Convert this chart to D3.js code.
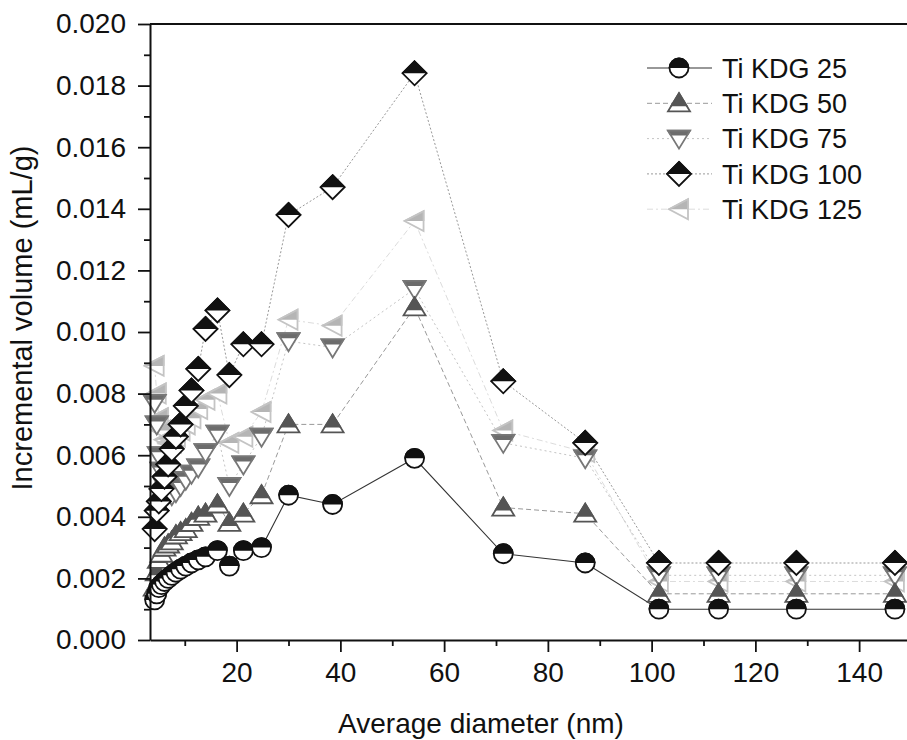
<!DOCTYPE html>
<html lang="en">
<head>
    <meta charset="UTF-8">
    <script src="https://cdnjs.cloudflare.com/ajax/libs/d3/7.8.5/d3.min.js"></script>
    <style>
        body { margin: 0; background: #fff; }
        text { font-family: "Liberation Sans", Arial, sans-serif; }
    </style>
    <title>Incremental volume</title>
</head>
<body>
    <div id="chart"></div>
    <script>
        // pore diameters (nm), shared by all samples
        var diamDense = [4.2, 4.6, 5.0, 5.5, 6.1, 6.8, 7.5, 8.3, 9.2, 10.2, 11.3, 12.6, 14.0, 16.3, 18.6, 21.3, 24.8];
        var diamTail = [30.0, 38.5, 54.3, 71.4, 87.2, 101.4, 112.9, 127.9, 146.9];

        var seriesNames = ['Ti KDG 25', 'Ti KDG 50', 'Ti KDG 75', 'Ti KDG 100', 'Ti KDG 125'];

        var kdg25 = [0.0013, 0.0015, 0.0017, 0.0018, 0.0019, 0.0020, 0.0021, 0.0022, 0.0023, 0.0024, 0.0025, 0.0026, 0.0027, 0.0029, 0.0024, 0.0029, 0.0030,
            0.0047, 0.0044, 0.0059, 0.0028, 0.0025, 0.0010, 0.0010, 0.0010, 0.0010];
        var kdg50 = [0.0017, 0.0022, 0.0026, 0.0028, 0.0030, 0.0031, 0.0032, 0.0034, 0.0035, 0.0036, 0.0038, 0.0040, 0.0041, 0.0044, 0.0038, 0.0041, 0.0047,
            0.0070, 0.0070, 0.0108, 0.0043, 0.0041, 0.0015, 0.0015, 0.0015, 0.0015];
        var kdg75 = [0.0077, 0.0070, 0.0060, 0.0055, 0.0050, 0.0048, 0.0047, 0.0048, 0.0050, 0.0052, 0.0054, 0.0056, 0.0061, 0.0067, 0.0050, 0.0057, 0.0066,
            0.0097, 0.0095, 0.0114, 0.0064, 0.0059, 0.0021, 0.0021, 0.0021, 0.0021];
        var kdg100 = [0.0036, 0.0042, 0.0045, 0.0049, 0.0053, 0.0057, 0.0062, 0.0066, 0.0070, 0.0076, 0.0081, 0.0088, 0.0101, 0.0107, 0.0086, 0.0096, 0.0096,
            0.0138, 0.0147, 0.0184, 0.0084, 0.0064, 0.0025, 0.0025, 0.0025, 0.0025];
        var kdg125 = [0.0089, 0.0080, 0.0072, 0.0068, 0.0065, 0.0064, 0.0064, 0.0066, 0.0068, 0.0070, 0.0072, 0.0075, 0.0078, 0.0080, 0.0064, 0.0066, 0.0074,
            0.0104, 0.0102, 0.0136, 0.0068, 0.0061, 0.0019, 0.0019, 0.0019, 0.0019];

        var xTicks = [20, 40, 60, 80, 100, 120, 140];
        var yTicks = [0, 0.002, 0.004, 0.006, 0.008, 0.010, 0.012, 0.014, 0.016, 0.018, 0.020];

        function drawChart() {
            var width = 907,
                height = 740,
                mLeft = 150,
                mTop = 24,
                mRight = 911,
                mBottom = 640;

            var diam = diamDense.concat(diamTail);

            // marker shapes, centred on 0,0; the top part is filled with the colour
            var shapes = {
                circle: 'M -9.5 0 A 9.5 9.5 0 1 1 9.5 0 A 9.5 9.5 0 1 1 -9.5 0 Z',
                up: 'M 0 -10 L 11 8 L -11 8 Z',
                down: 'M -11 -8 L 11 -8 L 0 10 Z',
                diamond: 'M 0 -12 L 12 0 L 0 12 L -12 0 Z',
                left: 'M -10 0 L 9 -10 L 9 10 Z'
            };

            var styles = [
                { values: kdg25, shape: 'circle', fill: '#111', stroke: '#111', cut: 0, line: '#333', dash: null, lw: 1.1 },
                { values: kdg50, shape: 'up', fill: '#555', stroke: '#555', cut: 3, line: '#999', dash: '5,3', lw: 1 },
                { values: kdg75, shape: 'down', fill: '#6c6c6c', stroke: '#777', cut: -3, line: '#c4c4c4', dash: '2,3', lw: 1 },
                { values: kdg100, shape: 'diamond', fill: '#111', stroke: '#111', cut: 0, line: '#999', dash: '2,2', lw: 1 },
                { values: kdg125, shape: 'left', fill: '#b5b5b5', stroke: '#c4c4c4', cut: 0, line: '#dcdcdc', dash: '6,3,2,3', lw: 1 }
            ];

            var x = d3.scaleLinear().domain([3.3, 150]).range([mLeft, mRight]);
            var y = d3.scaleLinear().domain([0, 0.020]).range([mBottom, mTop]);

            var svg = d3.select('#chart')
                .append('svg')
                .attr('width', width)
                .attr('height', height);

            var defs = svg.append('defs');
            styles.forEach(function (s, i) {
                defs.append('clipPath')
                    .attr('id', 'half' + i)
                    .append('rect')
                    .attr('x', -20)
                    .attr('y', -20)
                    .attr('width', 40)
                    .attr('height', 20 + s.cut);
            });

            var plot = svg.append('g');

            var line = d3.line()
                .x(function (d) { return x(d[0]); })
                .y(function (d) { return y(d[1]); });

            // lines first, then markers
            var order = [4, 2, 1, 3, 0];

            order.forEach(function (i) {
                var s = styles[i];
                var pts = diam.map(function (d, k) { return [d, s.values[k]]; });
                plot.append('path')
                    .datum(pts)
                    .attr('d', line)
                    .attr('fill', 'none')
                    .attr('stroke', s.line)
                    .attr('stroke-width', s.lw)
                    .attr('stroke-dasharray', s.dash);
            });

            function drawMarker(g, s, i) {
                g.append('path')
                    .attr('d', shapes[s.shape])
                    .attr('fill', '#fff')
                    .attr('stroke', s.stroke)
                    .attr('stroke-width', 1.8);
                g.append('path')
                    .attr('d', shapes[s.shape])
                    .attr('fill', s.fill)
                    .attr('stroke', s.stroke)
                    .attr('stroke-width', 1.8)
                    .attr('clip-path', 'url(#half' + i + ')');
            }

            order.forEach(function (i) {
                var s = styles[i];
                var pts = diam.map(function (d, k) { return [d, s.values[k]]; });
                plot.selectAll('.m' + i)
                    .data(pts)
                    .enter()
                    .append('g')
                    .attr('class', 'm' + i)
                    .attr('transform', function (d) { return 'translate(' + x(d[0]) + ',' + y(d[1]) + ')'; })
                    .each(function () { drawMarker(d3.select(this), s, i); });
            });

            // axes
            var xAxis = svg.append('g')
                .attr('transform', 'translate(0,' + mBottom + ')')
                .call(d3.axisBottom(x).tickValues(xTicks).tickSize(12).tickSizeOuter(0).tickPadding(10).tickFormat(d3.format('d')));
            svg.append('g')
                .attr('transform', 'translate(0,' + mBottom + ')')
                .call(d3.axisBottom(x).tickValues([10, 30, 50, 70, 90, 110, 130, 150]).tickSize(6).tickFormat(''))
                .select('.domain').remove();

            var yAxis = svg.append('g')
                .attr('transform', 'translate(' + mLeft + ',0)')
                .call(d3.axisLeft(y).tickValues(yTicks).tickSize(12).tickSizeOuter(0).tickPadding(12).tickFormat(d3.format('.3f')));
            svg.append('g')
                .attr('transform', 'translate(' + mLeft + ',0)')
                .call(d3.axisLeft(y).tickValues(d3.range(0.001, 0.020, 0.002)).tickSize(6).tickFormat(''))
                .select('.domain').remove();

            svg.selectAll('.tick line').attr('stroke', '#111').attr('stroke-width', 1.8);
            svg.selectAll('.domain').attr('stroke', '#111').attr('stroke-width', 2);
            xAxis.selectAll('text').style('font-size', '28px').attr('fill', '#111');
            yAxis.selectAll('text').style('font-size', '28px').attr('fill', '#111');

            // top and right frame lines
            svg.append('line')
                .attr('x1', mLeft).attr('x2', mRight)
                .attr('y1', mTop).attr('y2', mTop)
                .attr('stroke', '#111').attr('stroke-width', 2);
            svg.append('line')
                .attr('x1', mRight).attr('x2', mRight)
                .attr('y1', mTop).attr('y2', mBottom)
                .attr('stroke', '#111').attr('stroke-width', 2);

            svg.append('text')
                .attr('x', (340 + 622) / 2)
                .attr('y', 733)
                .attr('text-anchor', 'middle')
                .style('font-size', '28px')
                .attr('fill', '#111')
                .text('Average diameter (nm)');

            svg.append('text')
                .attr('transform', 'translate(32,318) rotate(-90)')
                .attr('text-anchor', 'middle')
                .style('font-size', '29px')
                .attr('fill', '#111')
                .text('Incremental volume (mL/g)');

            // legend
            var legend = svg.append('g')
                .selectAll('g')
                .data(styles)
                .enter()
                .append('g')
                .attr('transform', function (d, i) { return 'translate(0,' + (68 + i * 35.3) + ')'; });

            legend.append('line')
                .attr('x1', 647).attr('x2', 712)
                .attr('stroke', function (d) { return d.line; })
                .attr('stroke-width', function (d) { return d.lw; })
                .attr('stroke-dasharray', function (d) { return d.dash; });

            legend.append('g')
                .attr('transform', 'translate(679,0)')
                .each(function (d, i) { drawMarker(d3.select(this), d, i); });

            legend.append('text')
                .attr('x', 722)
                .attr('dy', '0.36em')
                .style('font-size', '27px')
                .attr('fill', '#111')
                .text(function (d, i) { return seriesNames[i]; });
        }
        drawChart();
    </script>
</body>
</html>
